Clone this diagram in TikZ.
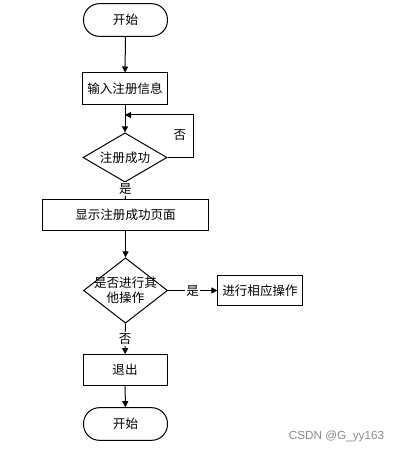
\documentclass[tikz,border=0pt]{standalone}
\usepackage{fontspec}
\newfontfamily\cjk{Noto Sans CJK SC}
\setsansfont{Liberation Sans}
\usetikzlibrary{shapes.geometric}
\usetikzlibrary{arrows.meta}
\usetikzlibrary{positioning}

\begin{document}
\begin{tikzpicture}[x=0.75pt,y=-0.75pt,
    every node/.style={font=\cjk\fontsize{9.4}{11.5}\selectfont},
    line width=0.75pt,
    arr/.style={-{Triangle[length=4.5pt,width=4.5pt]}},
    terminal/.style={draw,rounded corners=12pt,minimum width=63pt,minimum height=24.5pt},
    procbox/.style={draw,minimum width=63pt,minimum height=23pt},
    decide/.style={draw,diamond,inner sep=0pt,minimum width=63pt,minimum height=37pt,
        label={[align=center]center:#1}},
    tag/.style={fill=white,inner sep=1pt}]
    \useasboundingbox (0,0) rectangle (401,452);
    % main column
    \node[terminal] (start) at (125.5,20) {开始};
    \node[procbox, minimum height=24pt] (input) at (125,89) {输入注册信息};
    \node[decide={注册成功}] (check) at (125,157.5) {};
    \node[procbox, minimum width=125pt] (show) at (125.5,215) {显示注册成功页面};
    \node[decide={是否进行其\\他操作}, minimum height=49pt] (other) at (125.5,290.5) {};
    \node[procbox, minimum height=22pt] (doit) at (260,290.5) {进行相应操作};
    \node[procbox] (quit) at (125,370) {退出};
    \node[terminal] (stop) at (125.5,424) {开始};
    % loop back
    \coordinate (back) at (125,115);
    \draw[arr] (check.east) -- ++(26,0) |- (back);
    \node (no1) at (180,135) {否};
    % connectors
    \draw[arr] (start) -- (input);
    \draw[arr] (input) -- (check);
    \draw (check) -- (show) node[tag, pos=0.4] (yes1) {是};
    \draw[arr] (show) -- (other);
    \draw[arr] (other) -- (doit) node[tag, pos=0.5] (yes2) {是};
    \draw[arr] (other) -- (quit) node[tag, pos=0.5] (no2) {否};
    \draw[arr] (quit) -- (stop);
    \node[font=\sffamily\fontsize{8.8}{10}\selectfont, text=black!45] (mark) at (336.5,436) {CSDN @G\_yy163};
\end{tikzpicture}
\end{document}
